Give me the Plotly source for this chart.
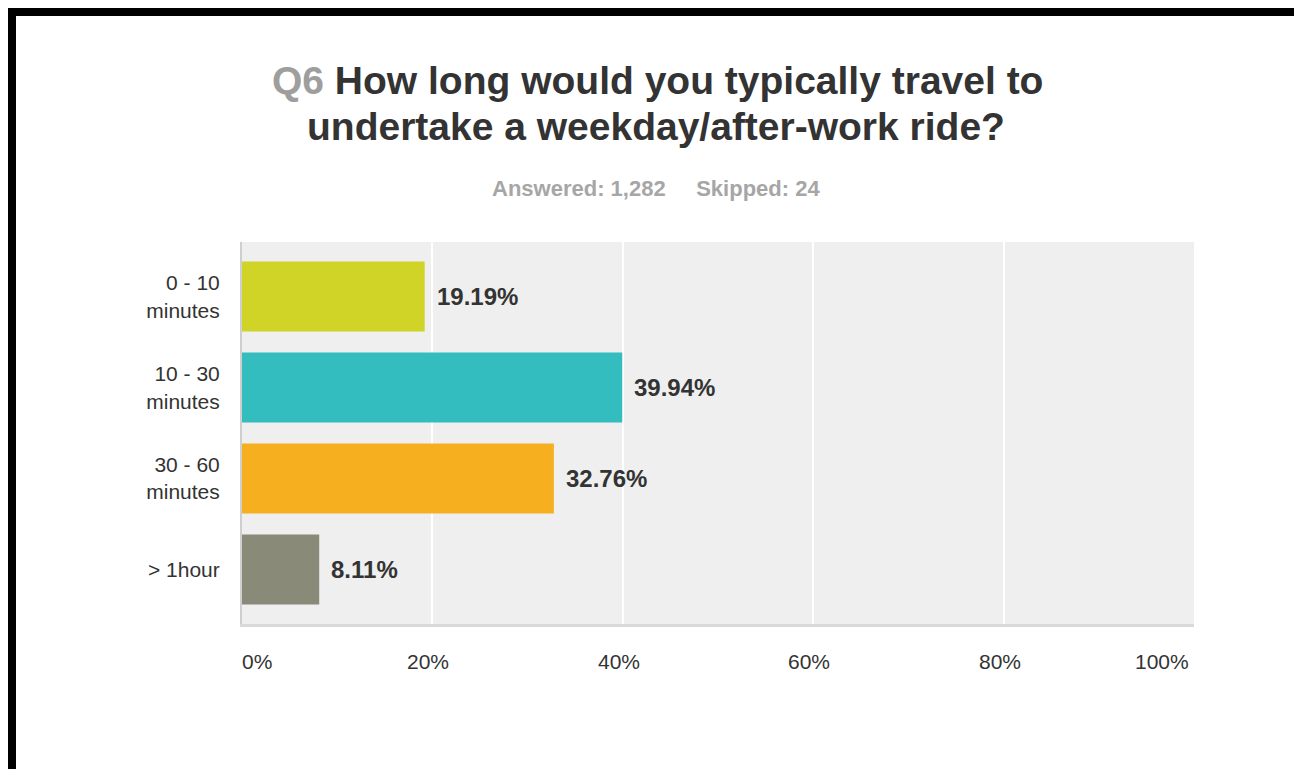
import plotly.graph_objects as go

# Survey answers for Q6
categories = ["0 - 10<br>minutes", "10 - 30<br>minutes", "30 - 60<br>minutes", "> 1hour"]
percentages = [19.19, 39.94, 32.76, 8.11]
bar_colors = ["#cfd427", "#33bdbe", "#f6b01f", "#898a78"]
tick_values = [0, 20, 40, 60, 80, 100]
tick_labels = ["0%", "20%", "40%", "60%", "80%", "100%"]
answered = "1,282"
skipped = "24"

W, H = 1294, 769
ML, MR, MT, MB = 242, 100, 242, 145
PW, PH = W - ML - MR, H - MT - MB

FONT = "Liberation Sans, Arial, sans-serif"
DARK = "#333333"


def paper_x(pix):
    return (pix - ML) / PW


def paper_y(pix):
    return (H - MB - pix) / PH


fig = go.Figure()
fig.add_trace(go.Bar(
    x=percentages,
    y=categories,
    orientation="h",
    width=0.77,
    marker=dict(color=bar_colors, line=dict(width=0)),
    hoverinfo="skip",
))

annotations = []

# value labels next to each bar
for cat, val in zip(categories, percentages):
    annotations.append(dict(
        x=val, y=cat, xref="x", yref="y",
        text=f"<b>{val:.2f}%</b>", showarrow=False,
        xanchor="left", yanchor="middle", xshift=10,
        font=dict(family=FONT, size=24, color=DARK),
    ))

# x tick labels (end labels kept inside the plot width)
for i, (tv, tl) in enumerate(zip(tick_values, tick_labels)):
    if i == 0:
        anchor, shift = "left", -2
    elif i == len(tick_values) - 1:
        anchor, shift = "right", -3
    else:
        anchor, shift = "center", -4
    annotations.append(dict(
        x=tv, y=0, xref="x", yref="paper",
        text=tl, showarrow=False,
        xanchor=anchor, yanchor="middle", yshift=-37, xshift=shift,
        font=dict(family=FONT, size=21, color=DARK),
    ))

# title, two lines
annotations.append(dict(
    x=paper_x(657), y=paper_y(80), xref="paper", yref="paper",
    text="<b><span style='color:#9e9e9e'>Q6</span> How long would you typically travel to</b>",
    showarrow=False, xanchor="center", yanchor="middle",
    font=dict(family=FONT, size=39, color=DARK),
))
annotations.append(dict(
    x=paper_x(656), y=paper_y(126), xref="paper", yref="paper",
    text="<b>undertake a weekday/after-work ride?</b>",
    showarrow=False, xanchor="center", yanchor="middle",
    font=dict(family=FONT, size=39, color=DARK),
))
# response counts
annotations.append(dict(
    x=paper_x(655.5), y=paper_y(188), xref="paper", yref="paper",
    text=f"<b>Answered: {answered}&nbsp;&nbsp;&nbsp;&nbsp;&nbsp;Skipped: {skipped}</b>",
    showarrow=False, xanchor="center", yanchor="middle",
    font=dict(family=FONT, size=22, color="#a6a6a6"),
))

# heavy black frame around the page
shapes = [dict(
    type="rect", xref="paper", yref="paper",
    x0=paper_x(12), y0=paper_y(800), x1=paper_x(1320), y1=paper_y(12),
    line=dict(color="black", width=8), fillcolor="rgba(0,0,0,0)", layer="above",
)]

fig.update_layout(
    width=W, height=H,
    margin=dict(l=ML, r=MR, t=MT, b=MB, pad=0),
    paper_bgcolor="white",
    plot_bgcolor="#efefef",
    showlegend=False,
    annotations=annotations,
    shapes=shapes,
    xaxis=dict(
        range=[0, 100], tickvals=tick_values, showticklabels=False,
        showgrid=True, gridcolor="white", gridwidth=2,
        zeroline=False, showline=True, linecolor="#d9d9d9", linewidth=3,
        fixedrange=True,
    ),
    yaxis=dict(
        type="category", range=[3.6, -0.6],
        showgrid=False, zeroline=False,
        showline=True, linecolor="#cfcfcf", linewidth=2,
        ticks="", ticklabelstandoff=16,
        tickfont=dict(family=FONT, size=21, color=DARK),
        fixedrange=True,
    ),
)

fig.write_html("out.html")
